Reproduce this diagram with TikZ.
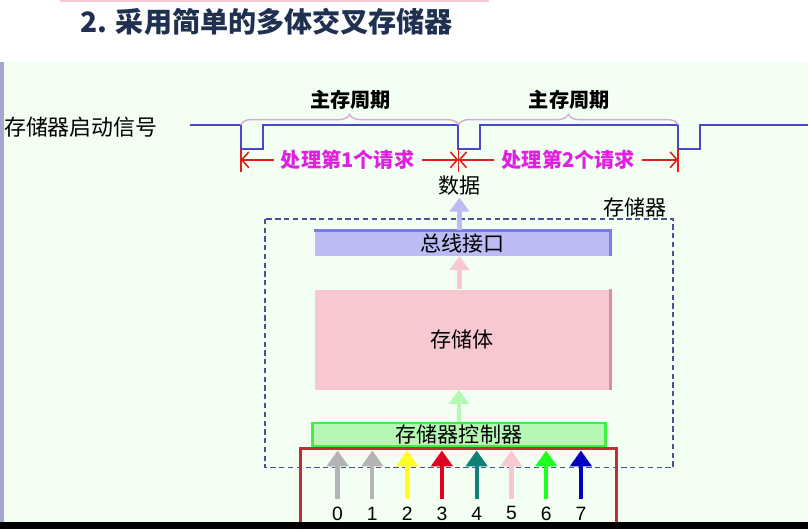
\documentclass[tikz,border=0pt]{standalone}
\usepackage{fontspec}
\setmainfont{Liberation Sans}
\newfontfamily\cjk{Noto Sans CJK SC}
\usetikzlibrary{arrows.meta, positioning, decorations.pathreplacing}

\definecolor{titleblue}{HTML}{1F3050}
\definecolor{bggreen}{HTML}{F2FFF2}
\definecolor{sigblue}{HTML}{4848C8}
\definecolor{bracepink}{HTML}{D8A8D8}
\definecolor{reqmagenta}{HTML}{E020E0}
\definecolor{markred}{HTML}{E02020}
\definecolor{boxblue}{HTML}{4850A0}
\definecolor{busfill}{HTML}{BCBCF4}
\definecolor{busedge}{HTML}{7C7CE0}
\definecolor{bodyfill}{HTML}{F8C8D0}
\definecolor{bodyedge}{HTML}{D8909C}
\definecolor{ctrlfill}{HTML}{B4F8B4}
\definecolor{ctrledge}{HTML}{40F040}
\definecolor{bankred}{HTML}{C03030}
\definecolor{bankgray}{HTML}{B4B4B4}
\definecolor{bankyellow}{HTML}{FFFF20}
\definecolor{bankred2}{HTML}{E00020}
\definecolor{bankteal}{HTML}{108078}
\definecolor{bankpink}{HTML}{F8C8D0}
\definecolor{bankgreen}{HTML}{20FF20}
\definecolor{bankblue}{HTML}{0000C0}

\tikzset{
  cjktext/.style={font=\cjk\fontsize{12}{14}\selectfont, inner sep=1pt},
  reqtext/.style={cjktext, font=\cjk\bfseries\fontsize{11.5}{14}\selectfont},
  sigline/.style={draw=sigblue, line width=1.1pt},
  cyclebrace/.style={draw=bracepink, line width=0.8pt,
    decorate, decoration={brace, amplitude=6pt}},
  marker/.style={draw=markred, line width=0.9pt},
  reqarrow/.style={draw=markred, line width=0.9pt,
    -{Straight Barb[length=4pt, width=9pt]}},
  fatarrow/.style={line width=2.6pt, -{Triangle[width=11pt, length=8pt]}},
  bankarrow/.style={line width=2.4pt, -{Triangle[width=12pt, length=9pt]}},
  unitbox/.style={cjktext, minimum width=5.92cm, inner sep=0pt}
}

\begin{document}
\begin{tikzpicture}[x=0.02cm, y=-0.02cm]
  % Background
  \fill[white] (0,0) rectangle (809,530);
  \fill[bggreen] (0,62) rectangle (809,523);
  \fill[boxblue!50] (0,62) rectangle (4,523);
  \draw[bodyfill, line width=1pt] (60,1) -- (490,1);

  % Title
  \node[font=\cjk\bfseries\fontsize{16}{19}\selectfont, text=titleblue] (title) at (267,22) {2. 采用简单的多体交叉存储器};

  % Start signal
  \node[cjktext, font=\cjk\fontsize{12.5}{14}\selectfont, anchor=west] (sig) at (2,127) {存储器启动信号};
  \coordinate (p1) at (241,125);
  \coordinate (p2) at (459,125);
  \coordinate (p3) at (679,125);
  \draw[sigline] (190,125) -- (p1) -- (241,149) -- (263,149) -- (263,125)
    -- (p2) -- (459,149) -- (481,149) -- (481,125)
    -- (p3) -- (679,149) -- (701,149) -- (701,125) -- (809,125);

  % Memory cycles
  \draw[cyclebrace] (p1) -- (p2);
  \draw[cyclebrace] (p2) -- (p3);
  \node[reqtext] (cyc1) at (351,100) {主存周期};
  \node[reqtext] (cyc2) at (570,100) {主存周期};

  % Request intervals
  \foreach \p in {p1, p2, p3} {
    \draw[marker] ([yshift=-0.48cm]\p) -- ([yshift=-0.94cm]\p);
  }
  \node[reqtext, text=reqmagenta, inner xsep=4pt] (req1) at (348,160) {处理第1个请求};
  \node[reqtext, text=reqmagenta, inner xsep=4pt] (req2) at (569,160) {处理第2个请求};
  \draw[reqarrow] (req1.west) -- (req1.west -| p1);
  \draw[reqarrow] (req1.east) -- (req1.east -| p2);
  \draw[reqarrow] (req2.west) -- (req2.west -| p2);
  \draw[reqarrow] (req2.east) -- (req2.east -| p3);

  % Memory
  \draw[boxblue, line width=1pt, dash pattern=on 3pt off 2pt] (265,219) rectangle (674,468);
  \node[cjktext] (mem) at (636,208) {存储器};
  \node[cjktext] (data) at (460,186) {数据};

  \node[unitbox, fill=busfill, minimum height=0.5cm] (bus) at (463,243.5) {总线接口};
  \draw[busedge, line width=1.6pt] (bus.north west) -- (bus.north east) -- (bus.south east);
  \node[unitbox, fill=bodyfill, minimum height=2cm] (body) at (463,340) {存储体};
  \draw[bodyedge, line width=1.6pt] (body.north east) -- (body.south east);
  \node[unitbox, fill=ctrlfill, draw=ctrledge, line width=1.6pt, minimum width=5.86cm, minimum height=0.46cm] (ctrl) at (459.5,435) {存储器控制器};

  \draw[fatarrow, busfill] (data.south |- bus.north) -- (data.south);
  \draw[fatarrow, bodyfill] (data.south |- body.north) -- (data.south |- bus.south);
  \draw[fatarrow, ctrlfill] (ctrl.north) -- (ctrl.north |- body.south);

  % Memory banks
  \draw[bankred, line width=1.4pt] (301,530) -- (301,449) -- (617,449) -- (617,530);
  \foreach \i/\c in {0/bankgray, 1/bankgray, 2/bankyellow, 3/bankred2,
                     4/bankteal, 5/bankpink, 6/bankgreen, 7/bankblue} {
    \node[font=\fontsize{11}{13}\selectfont, inner sep=1pt] (n\i) at (338+34.8*\i,514) {\i};
    \coordinate (t\i) at (338+34.8*\i,451);
    \draw[bankarrow, \c] ([yshift=3pt]n\i.north) -- (t\i);
  }
  \fill[black] (0,523) rectangle (809,530);
\end{tikzpicture}
\end{document}
